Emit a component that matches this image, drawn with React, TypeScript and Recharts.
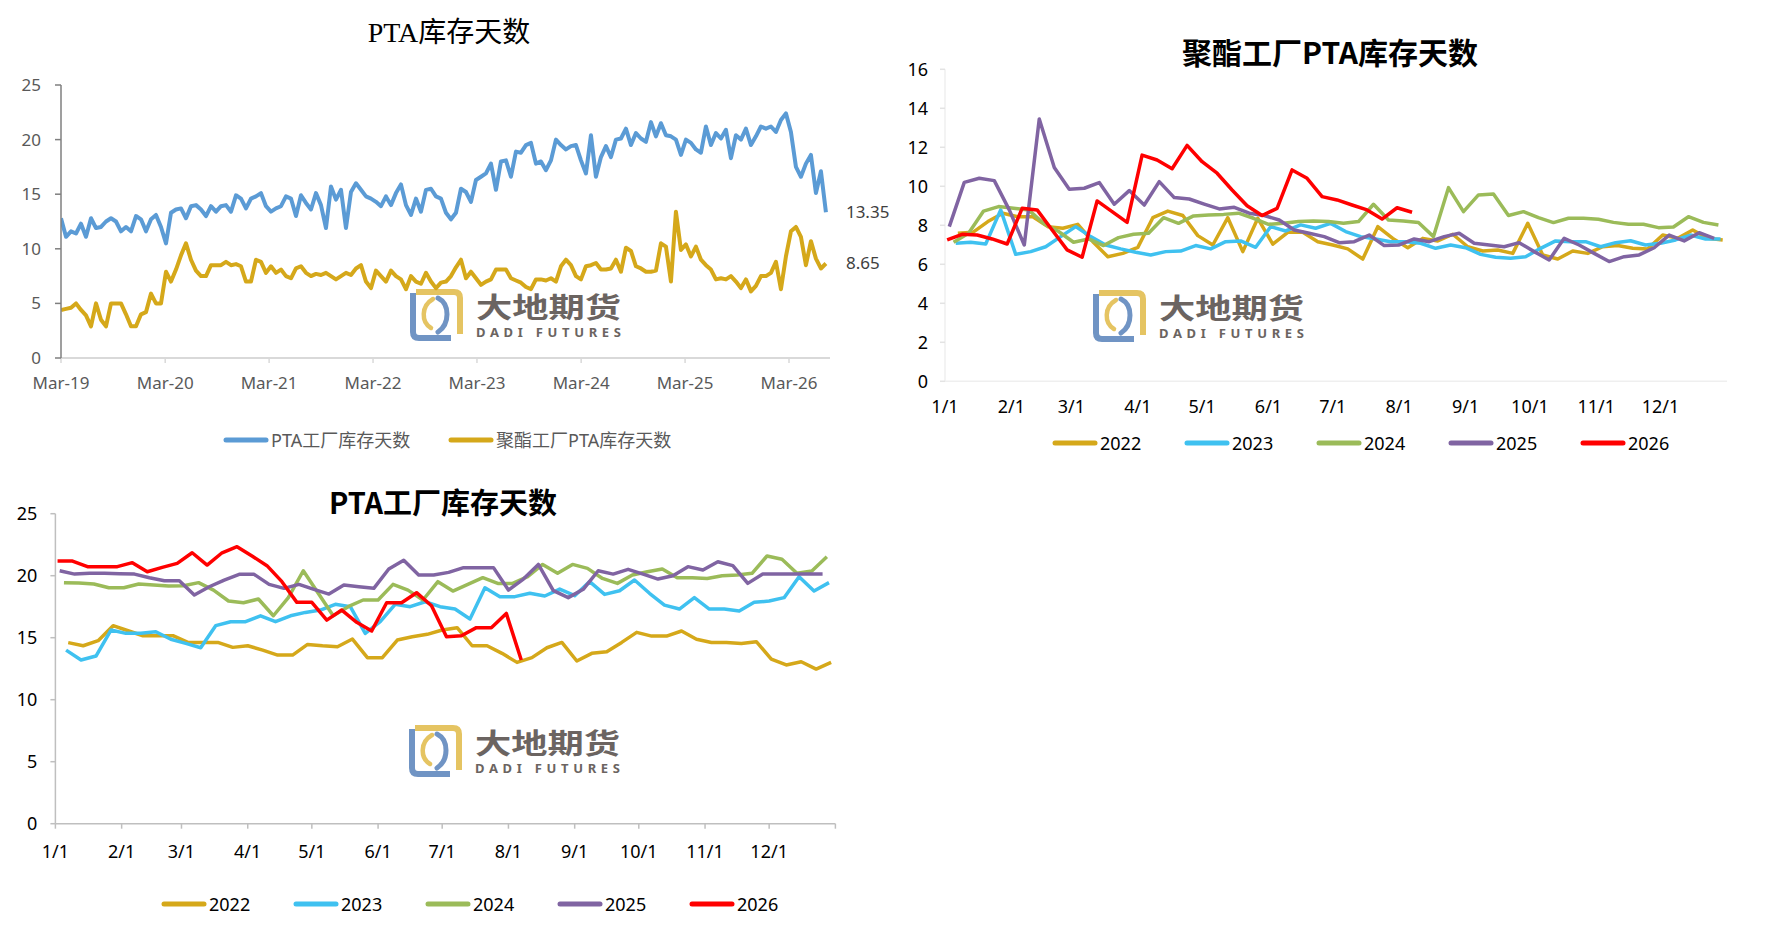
import React from 'react';
import { LineChart, Line, XAxis, YAxis, LabelList } from 'recharts';

// ---------- 图1：PTA库存天数（2019-03 起，约每 2.5 周一个读数） ----------
const TREND_START = Date.UTC(2019, 2, 1);
const TREND_STEP_DAYS = 17.56;
const TREND_END_DAYS = 2701;
const TREND_YEAR_LABELS = ['Mar-19', 'Mar-20', 'Mar-21', 'Mar-22', 'Mar-23', 'Mar-24', 'Mar-25', 'Mar-26'];

const PTA_FACTORY_DAYS = [
  12.8, 11.1, 11.6, 11.4, 12.3, 11.1, 12.8, 11.9, 12.0, 12.5,
  12.8, 12.5, 11.6, 12.0, 11.6, 13.0, 12.7, 11.6, 12.7, 13.1,
  12.0, 10.5, 13.3, 13.6, 13.7, 12.8, 13.9, 14.0, 13.6, 13.0,
  13.9, 13.4, 13.9, 14.0, 13.4, 14.9, 14.6, 13.7, 14.6, 14.8,
  15.1, 13.9, 13.4, 13.7, 13.9, 14.8, 14.6, 13.0, 14.9, 14.2,
  13.6, 15.1, 14.0, 11.9, 15.7, 14.5, 15.4, 11.9, 15.2, 16.0,
  15.4, 14.8, 14.6, 14.3, 13.9, 14.8, 14.0, 15.1, 15.9, 14.0,
  13.1, 14.6, 13.4, 15.4, 15.5, 14.8, 14.6, 13.3, 12.7,
  13.3, 15.5, 15.2, 14.3, 16.3, 16.6, 16.9, 17.8, 15.4, 18.0,
  18.1, 16.6, 18.9, 18.8, 19.5, 19.7, 17.8, 18.0, 17.2, 18.1,
  20.0, 19.5, 19.1, 19.4, 19.5, 18.1, 16.9, 20.4, 16.6, 18.4,
  19.4, 18.4, 20.0, 20.1, 21.0, 19.5, 20.6, 20.1, 19.8, 21.6,
  20.3, 21.5, 20.4, 20.3, 20.0, 18.6, 20.0, 19.7, 19.1, 18.8,
  21.2, 19.5, 20.6, 20.1, 20.9, 18.3, 20.4, 20.0, 21.0, 19.5,
  20.3, 21.2, 21.0, 21.2, 20.7, 21.8, 22.4, 20.7, 17.5, 16.6,
  17.8, 18.6, 15.1, 17.1, 13.35,
];

const POLYESTER_PTA_DAYS = [
  4.4, 4.5, 4.6, 5.0, 4.4, 3.9, 2.9, 5.0, 3.5, 2.9,
  5.0, 5.0, 5.0, 4.0, 2.9, 2.9, 4.0, 4.2, 5.9, 5.0,
  5.0, 7.9, 7.0, 8.1, 9.4, 10.5, 9.0, 8.0, 7.5, 7.5,
  8.5, 8.5, 8.5, 8.8, 8.5, 8.6, 8.4, 7.0, 7.0, 9.0,
  8.8, 7.8, 8.4, 7.8, 8.1, 7.5, 7.3, 8.2, 8.4, 7.8,
  7.5, 7.7, 7.6, 7.8, 7.5, 7.2, 7.5, 7.8, 7.6, 8.2,
  8.5, 7.0, 6.4, 8.0, 7.5, 7.0, 8.0, 7.5, 7.2, 6.3,
  7.5, 7.0, 6.8, 7.8, 7.0, 6.4, 6.9, 7.0, 7.5,
  8.3, 9.0, 7.3, 7.9, 7.3, 6.7, 7.0, 7.2, 8.1, 8.1,
  8.1, 7.3, 7.1, 6.9, 6.5, 6.3, 7.2, 7.2, 7.1, 7.3,
  7.0, 8.4, 9.0, 8.5, 7.5, 7.2, 8.4, 8.5, 8.7, 8.1,
  8.1, 8.2, 9.0, 7.9, 10.1, 9.8, 8.4, 8.2, 7.9, 7.9,
  8.0, 10.5, 10.2, 7.0, 13.4, 9.9, 10.4, 9.3, 10.2, 9.0,
  8.5, 8.1, 7.2, 7.3, 7.2, 7.5, 7.0, 6.4, 7.2, 6.1,
  6.6, 7.5, 7.5, 7.8, 8.8, 6.3, 9.3, 11.6, 12.0, 11.1,
  8.5, 10.7, 9.1, 8.2, 8.65,
];

// ---------- 季节性图：周度数据，按 1/1 起的天数落点 ----------
const MONTH_LABELS = ['1/1', '2/1', '3/1', '4/1', '5/1', '6/1', '7/1', '8/1', '9/1', '10/1', '11/1', '12/1'];
const MONTH_START_DAYS = [0, 31, 59, 90, 120, 151, 181, 212, 243, 273, 304, 334];
const YEARS = ['2022', '2023', '2024', '2025', '2026'];
const FIRST_FRIDAY = [6, 5, 4, 2, 1];

// 聚酯工厂PTA库存天数
const POLY_2022 = [7.59, 7.64, 8.19, 8.62, 8.44, 8.44, 7.93, 7.85, 8.05, 7.16, 6.39, 6.56, 6.87, 8.39, 8.73, 8.5, 7.47, 6.99, 8.39, 6.65, 8.36, 7.03, 7.64, 7.64, 7.16, 6.99, 6.79, 6.27, 7.93, 7.33, 6.85, 7.33, 7.2, 7.54, 6.9, 6.68, 6.73, 6.56, 8.1, 6.48, 6.27, 6.68, 6.56, 6.9, 6.96, 6.82, 6.79, 7.5, 7.33, 7.76, 7.33, 7.25];
const POLY_2023 = [7.08, 7.13, 7.04, 8.79, 6.51, 6.65, 6.9, 7.42, 7.93, 7.42, 6.99, 6.79, 6.62, 6.48, 6.65, 6.68, 6.96, 6.79, 7.16, 7.2, 6.87, 7.93, 7.71, 8.02, 7.85, 8.1, 7.68, 7.42, 7.3, 7.16, 7.16, 7.08, 6.82, 6.99, 6.85, 6.51, 6.36, 6.31, 6.39, 6.82, 7.2, 7.16, 7.16, 6.9, 7.11, 7.21, 6.99, 7.08, 7.25, 7.5, 7.3, 7.3];
const POLY_2024 = [7.13, 7.59, 8.73, 8.96, 8.87, 8.79, 8.1, 7.68, 7.13, 7.3, 6.96, 7.37, 7.54, 7.59, 8.39, 8.1, 8.48, 8.53, 8.56, 8.62, 8.36, 8.05, 8.1, 8.19, 8.22, 8.19, 8.1, 8.19, 9.08, 8.27, 8.22, 8.14, 7.42, 9.93, 8.7, 9.56, 9.61, 8.5, 8.7, 8.39, 8.14, 8.36, 8.36, 8.31, 8.15, 8.05, 8.05, 7.88, 7.91, 8.44, 8.15, 8.02];
const POLY_2025 = [7.93, 10.2, 10.41, 10.29, 8.79, 6.99, 13.45, 10.96, 9.85, 9.9, 10.19, 9.08, 9.78, 9.04, 10.24, 9.42, 9.35, 9.09, 8.84, 8.92, 8.62, 8.5, 8.27, 7.76, 7.59, 7.42, 7.11, 7.16, 7.5, 6.96, 6.99, 7.3, 7.16, 7.42, 7.59, 7.08, 6.99, 6.9, 7.11, 6.65, 6.22, 7.33, 6.99, 6.56, 6.14, 6.39, 6.48, 6.85, 7.5, 7.2, 7.62, 7.33];
const POLY_2026 = [7.25, 7.54, 7.5, 7.3, 7.04, 8.87, 8.79, 7.76, 6.74, 6.36, 9.25, 8.7, 8.15, 11.6, 11.35, 10.9, 12.1, 11.26, 10.67, 9.81, 9.0, 8.5, 8.87, 10.84, 10.41, 9.47, 9.3, 9.04, 8.79, 8.32, 8.9, 8.67];

// PTA工厂库存天数
const FACT_2022 = [14.6, 14.35, 14.76, 15.97, 15.56, 15.16, 15.16, 15.16, 14.62, 14.62, 14.62, 14.22, 14.35, 14.0, 13.6, 13.6, 14.46, 14.35, 14.27, 14.89, 13.39, 13.39, 14.81, 15.08, 15.27, 15.62, 15.81, 14.35, 14.35, 13.74, 13.01, 13.39, 14.19, 14.62, 13.12, 13.74, 13.87, 14.62, 15.43, 15.13, 15.13, 15.54, 14.87, 14.62, 14.62, 14.54, 14.68, 13.28, 12.8, 13.06, 12.47, 13.01];
const FACT_2023 = [14.0, 13.2, 13.52, 15.62, 15.35, 15.35, 15.48, 14.87, 14.54, 14.19, 15.97, 16.29, 16.29, 16.77, 16.29, 16.77, 17.04, 17.23, 17.69, 17.5, 15.35, 16.29, 17.69, 17.5, 17.9, 17.5, 17.31, 16.51, 19.03, 18.31, 18.31, 18.58, 18.36, 18.92, 18.39, 19.52, 18.49, 18.79, 19.65, 18.58, 17.63, 17.31, 18.23, 17.31, 17.31, 17.15, 17.85, 17.96, 18.23, 19.92, 18.76, 19.44];
const FACT_2024 = [19.44, 19.41, 19.33, 19.03, 19.03, 19.33, 19.25, 19.17, 19.19, 19.44, 18.84, 17.96, 17.82, 18.12, 16.77, 18.23, 20.4, 18.58, 16.77, 17.5, 18.04, 18.04, 19.3, 18.84, 18.04, 19.52, 18.76, 19.3, 19.84, 19.38, 19.38, 19.92, 20.91, 20.19, 20.91, 20.59, 19.78, 19.38, 20.05, 20.32, 20.54, 19.84, 19.84, 19.78, 20.0, 20.05, 20.19, 21.59, 21.32, 20.19, 20.38, 21.53];
const FACT_2025 = [20.4, 20.13, 20.19, 20.19, 20.16, 20.13, 19.84, 19.6, 19.6, 18.44, 19.11, 19.65, 20.11, 20.11, 19.3, 18.98, 19.3, 18.9, 18.52, 19.25, 19.11, 18.98, 20.54, 21.24, 20.05, 20.05, 20.27, 20.65, 20.65, 20.65, 18.84, 19.73, 20.91, 18.79, 18.23, 18.9, 20.4, 20.13, 20.51, 20.13, 19.73, 20.0, 20.73, 20.46, 21.13, 20.81, 19.38, 20.13, 20.13, 20.13, 20.13, 20.13];
const FACT_2026 = [21.18, 21.18, 20.73, 20.73, 20.73, 21.05, 20.32, 20.67, 20.99, 21.85, 20.86, 21.85, 22.34, 21.59, 20.81, 19.52, 17.85, 17.85, 16.42, 17.23, 16.24, 15.54, 17.82, 17.82, 18.63, 17.58, 15.08, 15.16, 15.81, 15.81, 16.96, 13.2];

const YEAR_COLORS = ['#d5a81a', '#3fc1f0', '#9bbb59', '#8064a2', '#ff0000'];
const BLUE = '#5b9bd5';
const GOLD = '#d5a81a';
const SANS = "'Noto Sans', 'Noto Sans CJK SC', sans-serif";
const CJK = "'Noto Sans CJK SC', 'Noto Sans', sans-serif";

const DAY_MS = 86400000;
const yearTicks = TREND_YEAR_LABELS.map((_, i) => (Date.UTC(2019 + i, 2, 1) - TREND_START) / DAY_MS);
const trend = (values: number[]) => values.map((v, i) => ({ x: i * TREND_STEP_DAYS, v }));
const weekly = (values: number[], firstDay: number) => values.map((v, i) => ({ x: firstDay + 7 * i, v }));

const polySeries = [POLY_2022, POLY_2023, POLY_2024, POLY_2025, POLY_2026].map((vals, i) => weekly(vals, FIRST_FRIDAY[i]));
const factSeries = [FACT_2022, FACT_2023, FACT_2024, FACT_2025, FACT_2026].map((vals, i) => weekly(vals, FIRST_FRIDAY[i]));

const monthTick = (t: number) => {
  const i = MONTH_START_DAYS.indexOf(t);
  return i >= 0 ? MONTH_LABELS[i] : '';
};

// only the last point gets its value written next to it
const lastValueLabel = (lastIndex: number) => (props: any) => {
  const { index, value } = props;
  if (index !== lastIndex) return null;
  const x = props.x ?? props.viewBox?.x;
  const y = props.y ?? props.viewBox?.y;
  return (
    <text x={x + 20} y={y} dy="0.35em" fill="#404040" fontSize={17} fontFamily={SANS}>
      {value}
    </text>
  );
};

function Title({ text, cx, cy, size, bold, family }: { text: string; cx: number; cy: number; size: number; bold?: boolean; family: string }) {
  return (
    <div
      style={{
        position: 'absolute', left: cx - 300, top: cy - size / 2, width: 600, textAlign: 'center',
        fontSize: size, lineHeight: `${size}px`, fontWeight: bold ? 700 : 400, fontFamily: family, color: '#000',
      }}
    >
      {text}
    </div>
  );
}

function LegendRow({ items, cy, color }: { items: { label: string; stroke: string; x: number }[]; cy: number; color: string }) {
  return (
    <>
      {items.map((it) => (
        <div key={it.label} style={{ position: 'absolute', left: it.x, top: cy - 12, height: 24, display: 'flex', alignItems: 'center' }}>
          <svg width={46} height={10}>
            <line x1={3} y1={5} x2={43} y2={5} stroke={it.stroke} strokeWidth={5} strokeLinecap="round" />
          </svg>
          <span style={{ marginLeft: 2, fontSize: 18, fontFamily: SANS, color, whiteSpace: 'nowrap', lineHeight: '24px' }}>{it.label}</span>
        </div>
      ))}
    </>
  );
}

// 大地期货 logo watermark; (left, top) is the top-left of the square mark
function Watermark({ left, top }: { left: number; top: number }) {
  const pad = 12;
  return (
    <svg style={{ position: 'absolute', left, top: top - pad }} width={222} height={54 + 2 * pad}>
      <g transform={`translate(0 ${pad})`}>
        <path d="M4 5 V44 Q4 50 10 50 H42" fill="none" stroke="#7094c4" strokeWidth={6} />
        <path d="M7 4 H45 Q51 4 51 10 V46" fill="none" stroke="#e5c462" strokeWidth={6} />
        <path d="M24 11 C12 18 12 34 22 40" fill="none" stroke="#e5c462" strokeWidth={4.5} strokeLinecap="round" />
        <path d="M29 10 C41 16 41 36 29 44" fill="none" stroke="#7094c4" strokeWidth={5} strokeLinecap="round" />
        <text x={67} y={30} fontSize={28} fontWeight={700} fill="#6b6461" fontFamily={CJK} textLength={145} lengthAdjust="spacingAndGlyphs">
          大地期货
        </text>
        <text x={67} y={49} fontSize={13} fontWeight={700} fill="#6b6461" fontFamily={SANS} textLength={145} lengthAdjust="spacing">
          DADI FUTURES
        </text>
      </g>
    </svg>
  );
}

function TrendChart() {
  const blue = trend(PTA_FACTORY_DAYS);
  const gold = trend(POLYESTER_PTA_DAYS);
  const tickStyle = { fill: '#595959', fontSize: 17, fontFamily: SANS };
  return (
    <div style={{ position: 'absolute', left: 0, top: 0 }}>
      <LineChart width={900} height={470} margin={{ top: 85, right: 70, bottom: 72, left: 0 }}>
        <XAxis
          type="number"
          dataKey="x"
          domain={[0, TREND_END_DAYS]}
          ticks={yearTicks}
          interval={0}
          allowDataOverflow
          tickFormatter={(t: number) => TREND_YEAR_LABELS[yearTicks.indexOf(t)] ?? ''}
          height={40}
          tickSize={5}
          tickMargin={14}
          axisLine={{ stroke: '#d9d9d9', strokeWidth: 2 }}
          tickLine={{ stroke: '#d9d9d9', strokeWidth: 1.5 }}
          tick={tickStyle}
        />
        <YAxis
          type="number"
          domain={[0, 25]}
          ticks={[0, 5, 10, 15, 20, 25]}
          interval={0}
          width={61}
          tickSize={6}
          tickMargin={14}
          axisLine={{ stroke: '#7f7f7f', strokeWidth: 1.5 }}
          tickLine={{ stroke: '#7f7f7f', strokeWidth: 1.5 }}
          tick={tickStyle}
        />
        <Line data={blue} dataKey="v" type="linear" stroke={BLUE} strokeWidth={4} dot={false} isAnimationActive={false} strokeLinejoin="round">
          <LabelList dataKey="v" content={lastValueLabel(blue.length - 1)} />
        </Line>
        <Line data={gold} dataKey="v" type="linear" stroke={GOLD} strokeWidth={4} dot={false} isAnimationActive={false} strokeLinejoin="round">
          <LabelList dataKey="v" content={lastValueLabel(gold.length - 1)} />
        </Line>
      </LineChart>
    </div>
  );
}

function SeasonalChart({
  series, left, top, width, height, margin, yAxisWidth, yMax, yStep, axisColor, tickColor, yTickColor, xTickSize, xTickMargin, yTickMargin, endTick,
}: {
  series: { x: number; v: number }[][];
  left: number; top: number; width: number; height: number;
  margin: { top: number; right: number; bottom: number; left: number };
  yAxisWidth: number; yMax: number; yStep: number;
  axisColor: string; tickColor: string; yTickColor: string;
  xTickSize: number; xTickMargin: number; yTickMargin: number; endTick: boolean;
}) {
  const yTicks: number[] = [];
  for (let v = 0; v <= yMax; v += yStep) yTicks.push(v);
  const xTicks = endTick ? [...MONTH_START_DAYS, 365] : MONTH_START_DAYS;
  const tickStyle = { fill: '#000', fontSize: 18, fontFamily: SANS };
  return (
    <div style={{ position: 'absolute', left, top }}>
      <LineChart width={width} height={height} margin={margin}>
        <XAxis
          type="number"
          dataKey="x"
          domain={[0, 365]}
          ticks={xTicks}
          interval={0}
          allowDataOverflow
          tickFormatter={monthTick}
          height={40}
          tickSize={xTickSize}
          tickMargin={xTickMargin}
          axisLine={{ stroke: axisColor, strokeWidth: 1.5 }}
          tickLine={{ stroke: tickColor, strokeWidth: 1.5 }}
          tick={tickStyle}
        />
        <YAxis
          type="number"
          domain={[0, yMax]}
          ticks={yTicks}
          interval={0}
          width={yAxisWidth}
          tickSize={5}
          tickMargin={yTickMargin}
          axisLine={{ stroke: axisColor, strokeWidth: 1.5 }}
          tickLine={{ stroke: yTickColor, strokeWidth: 1.5 }}
          tick={tickStyle}
        />
        {series.map((d, i) => (
          <Line
            key={YEARS[i]}
            data={d}
            dataKey="v"
            name={YEARS[i]}
            type="linear"
            stroke={YEAR_COLORS[i]}
            strokeWidth={3.5}
            dot={false}
            strokeLinejoin="round"
            isAnimationActive={false}
          />
        ))}
      </LineChart>
    </div>
  );
}

export default function App() {
  const yearLegend = (x0: number) => YEARS.map((y, i) => ({ label: y, stroke: YEAR_COLORS[i], x: x0 + 132 * i }));
  return (
    <div style={{ position: 'absolute', left: 0, top: 0, width: 1782, height: 933, background: '#fff', overflow: 'hidden' }}>
      <Watermark left={409} top={288} />
      <Watermark left={1092} top={289} />
      <Watermark left={408} top={724} />

      <Title text="PTA库存天数" cx={449} cy={33} size={28} family="'Liberation Serif', 'Noto Sans CJK SC', serif" />
      <TrendChart />
      <LegendRow
        cy={440}
        color="#595959"
        items={[
          { label: 'PTA工厂库存天数', stroke: BLUE, x: 223 },
          { label: '聚酯工厂PTA库存天数', stroke: GOLD, x: 448 },
        ]}
      />

      <Title text="聚酯工厂PTA库存天数" cx={1330} cy={51} size={30} bold family={CJK} />
      <SeasonalChart
        series={polySeries}
        left={880}
        top={0}
        width={900}
        height={470}
        margin={{ top: 69.3, right: 53, bottom: 48.7, left: 0 }}
        yAxisWidth={65}
        yMax={16}
        yStep={2}
        axisColor="#efefef"
        tickColor="transparent"
        yTickColor="#e3e3e3"
        xTickSize={6}
        xTickMargin={13}
        yTickMargin={12}
        endTick={false}
      />
      <LegendRow cy={443} color="#000" items={yearLegend(1052)} />

      <Title text="PTA工厂库存天数" cx={443} cy={501} size={29} bold family={CJK} />
      <SeasonalChart
        series={factSeries}
        left={0}
        top={466}
        width={900}
        height={467}
        margin={{ top: 47.7, right: 64.6, bottom: 69.3, left: 0 }}
        yAxisWidth={55.4}
        yMax={25}
        yStep={5}
        axisColor="#bfbfbf"
        tickColor="#bfbfbf"
        yTickColor="#bfbfbf"
        xTickSize={5}
        xTickMargin={17}
        yTickMargin={13}
        endTick
      />
      <LegendRow cy={904} color="#000" items={yearLegend(161)} />
    </div>
  );
}
